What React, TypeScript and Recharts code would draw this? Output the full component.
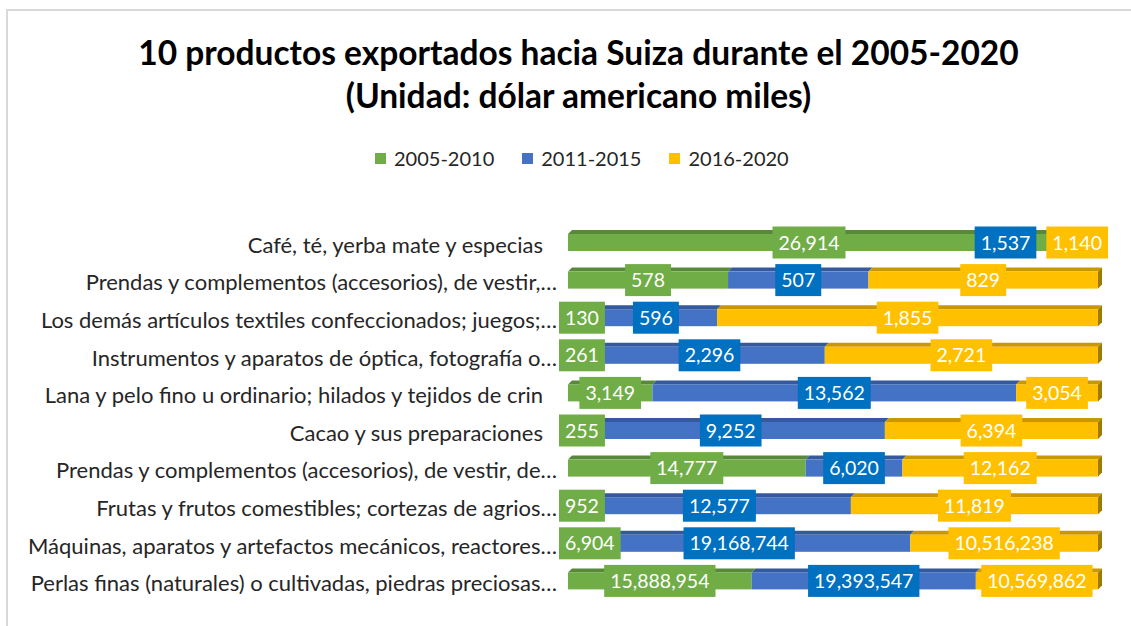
import React from 'react';
import { BarChart, Bar, XAxis, YAxis, Legend, LabelList } from 'recharts';

const categories = [
  'Café, té, yerba mate y especias',
  'Prendas y complementos (accesorios), de vestir,…',
  'Los demás artículos textiles confeccionados; juegos;…',
  'Instrumentos y aparatos de óptica, fotografía o…',
  'Lana y pelo fino u ordinario; hilados y tejidos de crin',
  'Cacao y sus preparaciones',
  'Prendas y complementos (accesorios), de vestir, de…',
  'Frutas y frutos comestibles; cortezas de agrios…',
  'Máquinas, aparatos y artefactos mecánicos, reactores…',
  'Perlas finas (naturales) o cultivadas, piedras preciosas…',
];

const seriesNames = ['2005-2010', '2011-2015', '2016-2020'];
const values2005_2010 = [26914, 578, 130, 261, 3149, 255, 14777, 952, 6904, 15888954];
const values2011_2015 = [1537, 507, 596, 2296, 13562, 9252, 6020, 12577, 19168744, 19393547];
const values2016_2020 = [1140, 829, 1855, 2721, 3054, 6394, 12162, 11819, 10516238, 10569862];

const FONT = 'Lato, "Open Sans", sans-serif';
const COLORS = ['#70AD47', '#4472C4', '#FFC000'];
const TOP_COLORS = ['#58893A', '#34599C', '#C99800'];
const SIDE_COLOR = '#A07A00';
const LABEL_BOX = ['#70AD47', '#0070C0', '#FFC000'];
const DEPTH = 4;
const LABEL_FONT_SIZE = 19.5;

const data = categories.map((name, i) => ({
  name,
  a: values2005_2010[i],
  b: values2011_2015[i],
  c: values2016_2020[i],
}));

let ctx: CanvasRenderingContext2D | null = null;
const measure = (t: string, font: string) => {
  if (!ctx) ctx = document.createElement('canvas').getContext('2d');
  if (!ctx) return t.length * 10;
  ctx.font = font;
  return ctx.measureText(t).width;
};

const fmt = (v: number) => v.toLocaleString('en-US');

const make3D = (k: number, withSide: boolean) => (props: any) => {
  const { x, y, width, height, fill } = props;
  if (width == null || height == null) return null;
  const d = DEPTH;
  return (
    <g>
      <polygon
        points={`${x},${y + d} ${x + d},${y} ${x + width + d},${y} ${x + width},${y + d}`}
        fill={TOP_COLORS[k]}
      />
      <rect x={x} y={y + d} width={width} height={height - d} fill={fill} />
      {withSide && (
        <polygon
          points={`${x + width},${y + d} ${x + width + d},${y} ${x + width + d},${y + height - d} ${x + width},${y + height}`}
          fill={SIDE_COLOR}
        />
      )}
    </g>
  );
};

const RowLabels = (props: any) => {
  const { index } = props;
  const vb = props.viewBox && props.viewBox.width != null ? props.viewBox : props;
  const { x, y, width, height } = vb;
  if (index == null || x == null) return null;
  const vals = [values2005_2010[index], values2011_2015[index], values2016_2020[index]];
  const total = vals[0] + vals[1] + vals[2];
  const W = width / (vals[2] / total);
  const right = x + width;
  const left = right - W;
  const font = `${LABEL_FONT_SIZE}px ${FONT}`;
  let cum = 0;
  const boxes = vals.map((v, k) => {
    const start = left + (W * cum) / total;
    cum += v;
    const end = left + (W * cum) / total;
    const text = fmt(v);
    const w = measure(text, font) + 12;
    return { cx: (start + end) / 2, w, text, k };
  });
  // keep labels inside the bar's reach, pushing from the right end
  let limit = right + 10;
  for (let k = 2; k >= 0; k--) {
    const b = boxes[k];
    if (b.cx + b.w / 2 > limit) b.cx = limit - b.w / 2;
    limit = b.cx - b.w / 2 - 10;
  }
  // and from the left end
  let minLeft = left - 9;
  for (let k = 0; k < 3; k++) {
    const b = boxes[k];
    if (b.cx - b.w / 2 < minLeft) b.cx = minLeft + b.w / 2;
    minLeft = b.cx + b.w / 2 + 10;
  }
  const cy = y + DEPTH + (height - DEPTH) / 2;
  return (
    <g>
      {boxes.map((b) => (
        <g key={b.k}>
          <rect x={b.cx - b.w / 2} y={cy - 16} width={b.w} height={32} fill={LABEL_BOX[b.k]} />
          <text
            x={b.cx}
            y={cy + 7}
            textAnchor="middle"
            fill="#ffffff"
            fontFamily={FONT}
            fontSize={LABEL_FONT_SIZE}
          >
            {b.text}
          </text>
        </g>
      ))}
    </g>
  );
};

const CategoryTick = (props: any) => {
  const { x, y, payload } = props;
  const label: string = payload.value;
  const truncated = label.endsWith('…');
  return (
    <text
      x={truncated ? x - 11 : x - 25}
      y={y + 12}
      textAnchor="end"
      fill="#262626"
      fontFamily={FONT}
      fontSize={22}
    >
      {label}
    </text>
  );
};

const LegendContent = () => (
  <div style={{ display: 'flex', alignItems: 'center', fontFamily: FONT, fontSize: 20, color: '#262626' }}>
    {seriesNames.map((n, k) => (
      <div key={n} style={{ display: 'flex', alignItems: 'center', marginRight: k < 2 ? 28 : 0 }}>
        <span style={{ display: 'inline-block', width: 11, height: 11, background: COLORS[k], marginRight: 8 }} />
        <span>{n}</span>
      </div>
    ))}
  </div>
);

export default function App() {
  return (
    <div
      style={{
        position: 'fixed',
        left: 0,
        top: 0,
        width: 1131,
        height: 626,
        overflow: 'hidden',
        background: '#ffffff',
      }}
    >
      <div
        style={{
          position: 'absolute',
          left: 6,
          top: 9,
          width: 1150,
          height: 650,
          border: '2px solid #d9d9d9',
        }}
      />
      <div
        style={{
          position: 'absolute',
          left: 0,
          top: 31,
          width: 1157,
          textAlign: 'center',
          fontFamily: FONT,
          fontWeight: 700,
          fontSize: 33.5,
          lineHeight: '43px',
          color: '#000000',
          whiteSpace: 'nowrap',
        }}
      >
        <div>10 productos exportados hacia Suiza durante el 2005-2020</div>
        <div>(Unidad: dólar americano miles)</div>
      </div>
      <div style={{ position: 'absolute', left: 0, top: 0 }}>
        <BarChart
          width={1131}
          height={626}
          data={data}
          layout="vertical"
          stackOffset="expand"
          barCategoryGap={0}
          barSize={21}
          margin={{ top: 222, right: 33, bottom: 28, left: 8 }}
        >
          <XAxis type="number" domain={[0, 1]} hide />
          <YAxis
            type="category"
            dataKey="name"
            width={560}
            axisLine={false}
            tickLine={false}
            tickSize={0}
            tickMargin={0}
            interval={0}
            tick={<CategoryTick />}
          />
          <Legend
            layout="horizontal"
            verticalAlign="middle"
            align="center"
            wrapperStyle={{ top: 146, left: 375, width: 'auto' }}
            content={<LegendContent />}
          />
          <Bar dataKey="a" name={seriesNames[0]} stackId="s" fill={COLORS[0]} isAnimationActive={false} shape={make3D(0, false)} />
          <Bar dataKey="b" name={seriesNames[1]} stackId="s" fill={COLORS[1]} isAnimationActive={false} shape={make3D(1, false)} />
          <Bar dataKey="c" name={seriesNames[2]} stackId="s" fill={COLORS[2]} isAnimationActive={false} shape={make3D(2, true)}>
            <LabelList dataKey="c" content={<RowLabels />} />
          </Bar>
        </BarChart>
      </div>
    </div>
  );
}
